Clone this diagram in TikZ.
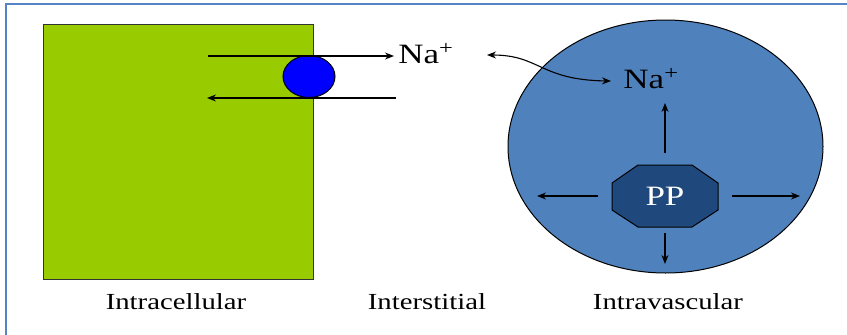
\documentclass[tikz,border=0pt]{standalone}
\usepackage{fontspec}
\setmainfont{Liberation Serif}[FakeStretch=1.25]
\usetikzlibrary{arrows.meta,shapes.geometric}
\definecolor{framec}{RGB}{84,132,198}
\definecolor{cellg}{RGB}{153,204,0}
\definecolor{vesb}{RGB}{79,129,189}
\definecolor{ppb}{RGB}{31,73,125}
\definecolor{pumpb}{RGB}{0,0,255}
\tikzset{
  arr/.style={line width=1.1pt,-{Stealth[length=9pt,width=7pt]}},
  darr/.style={line width=1.1pt,{Stealth[length=9pt,width=7pt]}-{Stealth[length=9pt,width=7pt]}},
  lbl/.style={font=\fontsize{23}{27}\selectfont,text=black,inner sep=0pt},
  ion/.style={font=\fontsize{28}{32}\selectfont,text=black,inner sep=0pt},
}
\begin{document}
\begin{tikzpicture}[x=1pt,y=-1pt]
\useasboundingbox (0,0) rectangle (847,335);
% frame
\draw[framec,line width=2pt] (6,335) -- (6,4) -- (847,4);
% cell
\node[draw=black!80,line width=1pt,fill=cellg,minimum width=270pt,minimum height=255pt,inner sep=0pt] (cell) at (178,151.5) {};
% vessel
\node[draw=black,line width=1pt,fill=vesb,ellipse,minimum width=315pt,minimum height=253pt,inner sep=0pt] (ves) at (665.5,146.5) {};
% pump
\node[draw=black,line width=1pt,fill=pumpb,ellipse,minimum width=52pt,minimum height=42pt,inner sep=0pt] (pump) at (309,76.5) {};
% octagon PP
\draw[fill=ppb,draw=black,line width=1pt] (638,165) -- (692,165) -- (718,183) -- (718,210) -- (692,227) -- (638,227) -- (612,210) -- (612,183) -- cycle;
\node[font=\fontsize{28}{32}\selectfont,text=white,inner sep=0pt] (pp) at (665,196) {PP};
% texts
\node[ion] (na1) at (426,54) {Na\textsuperscript{+}};
\node[ion] (na2) at (651,79) {Na\textsuperscript{+}};
\node[lbl] (l1) at (176,302) {Intracellular};
\node[lbl] (l2) at (427,302) {Interstitial};
\node[lbl] (l3) at (668,302) {Intravascular};
% coordinates for arrows
\coordinate (a1s) at (208,56);
\coordinate (a1e) at (394,56);
\coordinate (a2s) at (396,98);
\coordinate (a2e) at (207,98);
\coordinate (cs) at (487,55);
\coordinate (ce) at (611,81);
\coordinate (up1) at (665,153);
\coordinate (up2) at (665,103);
\coordinate (lf1) at (598,196);
\coordinate (lf2) at (537,196);
\coordinate (rt1) at (732,196);
\coordinate (rt2) at (800,196);
\coordinate (dn1) at (665,233);
\coordinate (dn2) at (665,264);
\draw[arr] (a1s) -- (a1e);
\draw[arr] (a2s) -- (a2e);
\draw[darr] (cs) .. controls (540,55) and (540,80) .. (ce);
\draw[arr] (up1) -- (up2);
\draw[arr] (lf1) -- (lf2);
\draw[arr] (rt1) -- (rt2);
\draw[arr] (dn1) -- (dn2);
\end{tikzpicture}
\end{document}
